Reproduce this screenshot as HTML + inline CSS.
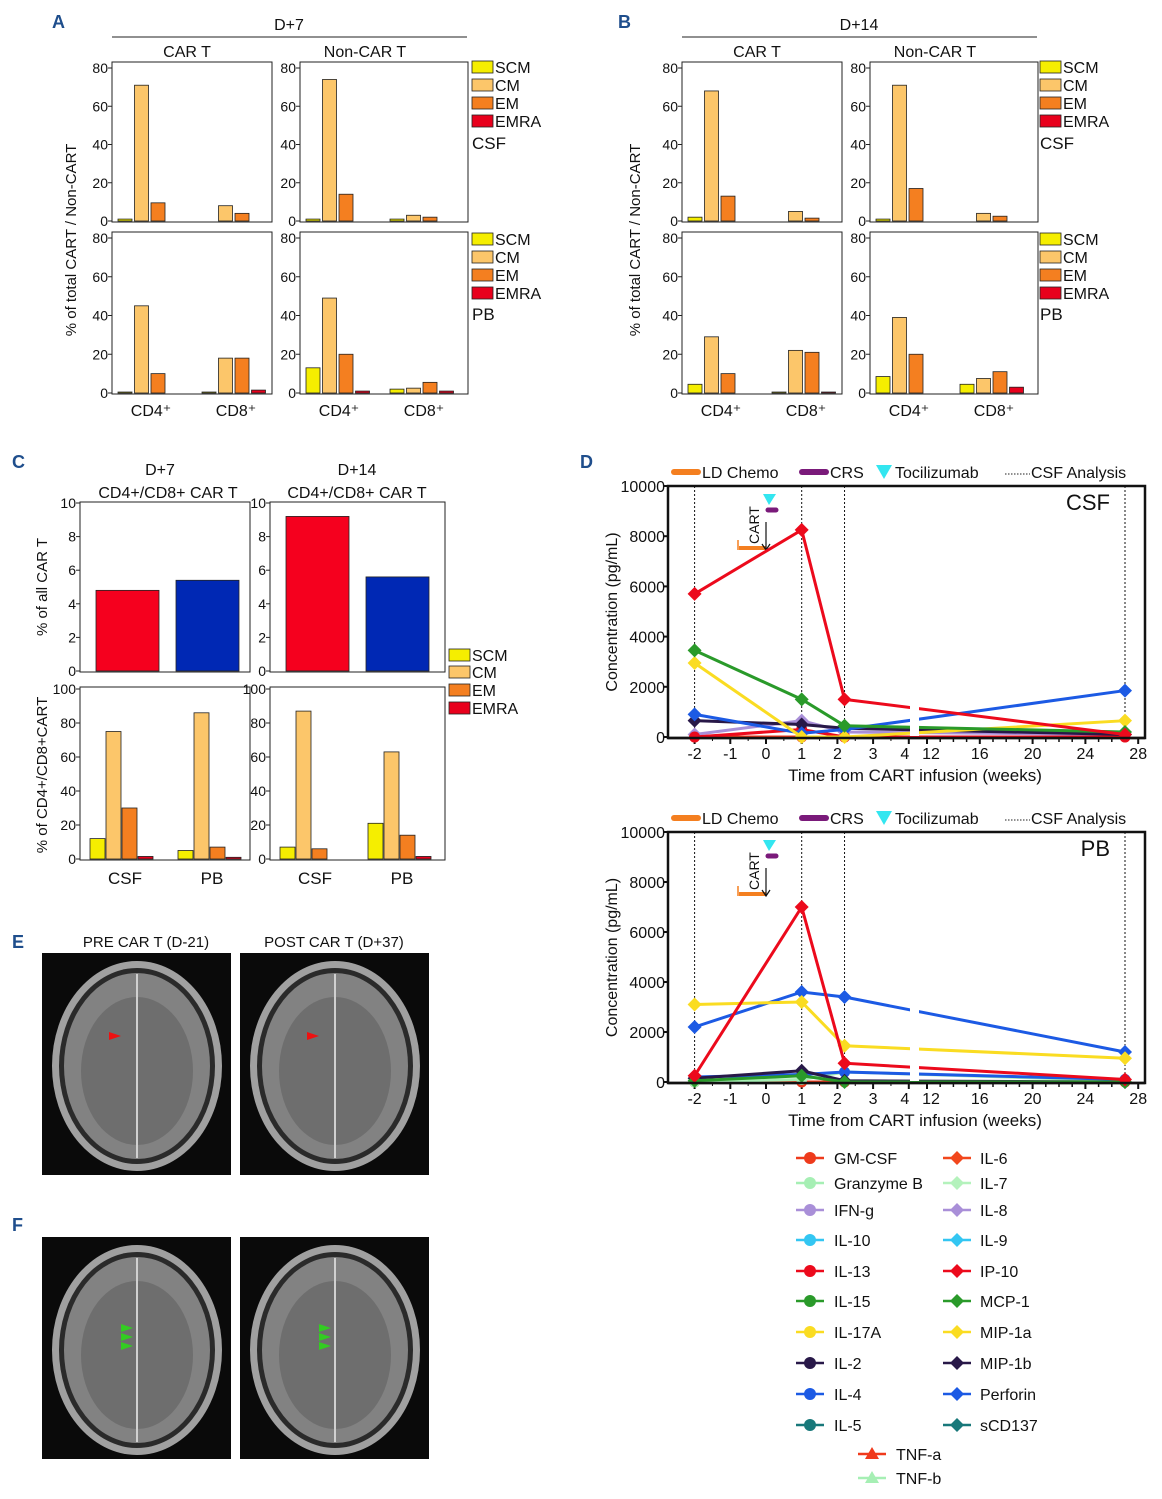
<!DOCTYPE html>
<html><head><meta charset="utf-8"><style>
body{margin:0;background:#fff;font-family:"Liberation Sans",sans-serif}
svg text{font-family:"Liberation Sans",sans-serif}
</style></head><body>
<svg id="s" width="1162" height="1494" viewBox="0 0 1162 1494" xmlns="http://www.w3.org/2000/svg">
<g font-weight="bold" font-size="18" fill="#1f4e8c">
<text x="52" y="28">A</text>
<text x="618" y="28">B</text>
<text x="12" y="468">C</text>
<text x="580" y="468">D</text>
<text x="12" y="948">E</text>
<text x="12" y="1231">F</text>
</g>
<g id="g"></g>
</svg>
<script>
// ---- Panel A/B data (SCM, CM, EM, EMRA) ----
const subsets = ["SCM","CM","EM","EMRA"];
const aTopCar = [[1,71,9.5,0],[0,8,4,0]];
const aTopNon = [[1,74,14,0],[1,3,2,0]];
const aBotCar = [[0.5,45,10,0],[0.5,18,18,1.5]];
const aBotNon = [[13,49,20,1],[2,2.5,5.5,1]];
const bTopCar = [[2,68,13,0],[0,5,1.5,0]];
const bTopNon = [[1,71,17,0],[0,4,2.5,0]];
const bBotCar = [[4.5,29,10,0],[0.5,22,21,0.5]];
const bBotNon = [[8.5,39,20,0],[4.5,7.5,11,3]];
const abTicks = [0,20,40,60,80];
// ---- Panel C data ----
const cTopD7 = [4.8,5.4];
const cTopD14 = [9.2,5.6];
const cBotD7 = [[12,75,30,1.5],[5,86,7,1]];
const cBotD14 = [[7,87,6,0],[21,63,14,1.5]];
const cTopTicks = [0,2,4,6,8,10];
const cBotTicks = [0,20,40,60,80,100];
// ---- Panel D data (weeks -2, 1, 2.2, 27) ----
const dWeeks = [-2,1,2.2,27];
const dTickLeft = [-2,-1,0,1,2,3,4];
const dTickRight = [12,16,20,24,28];
const dYTicks = [0,2000,4000,6000,8000,10000];
const csfIP10 = [5700,8250,1500,100];
const csfMCP1 = [3450,1500,450,200];
const csfMIP1a = [2950,0,0,650];
const csfPerforin = [900,150,300,1850];
const csfMIP1b = [650,500,350,100];
const csfIL8 = [100,650,200,100];
const csfIL13 = [0,300,0,0];
const csfGMCSF = [0,0,0,0];
const pbIP10 = [250,7000,750,100];
const pbPerforin = [2200,3600,3400,1200];
const pbMIP1a = [3100,3200,1450,950];
const pbMIP1b = [150,450,50,0];
const pbMCP1 = [50,250,0,0];
const pbGranz = [0,100,400,50];
const pbIL4 = [200,300,400,100];
const pbGMCSF = [0,0,0,0];

const SC=["#f5ee00","#fcc66a","#f47f20","#e8001c"];
const NS="http://www.w3.org/2000/svg";
const G=document.getElementById('g');
function el(t,a,p){const e=document.createElementNS(NS,t);for(const k in a)e.setAttribute(k,a[k]);(p||G).appendChild(e);return e;}
function tx(x,y,s,size,anchor,extra){const e=el('text',Object.assign({x:x,y:y,'font-size':size||15,'text-anchor':anchor||'start',fill:'#111'},extra||{}));e.textContent=s;return e;}

function box(x1,x2,y1,y2,name){const r=el('rect',{x:x1,y:y1,width:x2-x1,height:y2-y1,fill:'none',stroke:'#222','stroke-width':1});}
function yAxis(x,y0,y1,ticks,max,name){
  const sc=v=>y0-(v/max)*(y0-y1);
  ticks.forEach(t=>{el('line',{x1:x-4,x2:x,y1:sc(t),y2:sc(t),stroke:'#222'});const e=tx(x-4,sc(t)+5,String(t),14,'end');});
  return sc;
}
function groupBars(vals,starts,y0,sc,w,gap,name){
  vals.forEach((g,gi)=>g.forEach((v,i)=>{const x=starts[gi]+i*gap;const r=el('rect',{x:x,y:sc(v),width:w,height:y0-sc(v),fill:SC[i],stroke:'#222','stroke-width':0.8});}));
}
function legendAB(x,ys,tail){subsets.forEach((s,i)=>{const r=el('rect',{x:x,y:ys[i]-7,width:21,height:12,fill:SC[i],stroke:'#222','stroke-width':0.8});const t=tx(x+23,ys[i]+5,s,16);});
 if(tail){const t=tx(x,ys[4],tail,17);}}

function panelAB(ox,title,data){
  const [tc,tn,bc,bn]=data;
  const bx=[[112+ox,272+ox],[300+ox,468+ox]];
  tx(289+ox,30,title,16,'middle');
  el('line',{x1:112+ox,x2:467+ox,y1:37,y2:37,stroke:'#222'});
  tx(187+ox,57,'CAR T',16,'middle');tx(365+ox,57,'Non-CAR T',16,'middle');
  [[62,222,tc,tn],[232,394,bc,bn]].forEach(([yt,yb,dc,dn],ri)=>{
    const y0=yb-1,y80=yt+6;
    bx.forEach(([a,b],ci)=>{box(a,b,yt,yb,'plot-frame');
      const sc=yAxis(a,y0,y80,abTicks,80);
      groupBars(ci?dn:dc,[a+6,a+90],y0,sc,14,16.5,'bar');
      if(ri==1){['CD4⁺','CD8⁺'].forEach((l,k)=>{const t=tx(a+39+k*85,yb+22,l,16,'middle');});}
    });
    const lx=472+ox-(ox?2:0);
    legendAB(lx,ri?[240,258,276,294,320]:[68,86,104,122,149],ri?'PB':'CSF');
  });
  const yt=tx(0,0,'% of total CART / Non-CART',15,'middle',{transform:`translate(${76+ox-(ox?6:0)},240) rotate(-90)`});
  
}
panelAB(0,'D+7',[aTopCar,aTopNon,aBotCar,aBotNon]);
panelAB(570,'D+14',[bTopCar,bTopNon,bBotCar,bBotNon]);

// Panel C
tx(160,475,'D+7',16,'middle');tx(168,498,'CD4+/CD8+ CAR T',16,'middle');
tx(357,475,'D+14',16,'middle');tx(357,498,'CD4+/CD8+ CAR T',16,'middle');
[[80,250,cTopD7,cBotD7],[270,445,cTopD14,cBotD14]].forEach(([a,b,tv,bv])=>{
  box(a,b,502,672,'plot-frame');
  const sc=yAxis(a,671,503,cTopTicks,10);
  tv.forEach((v,i)=>{const r=el('rect',{x:a+16+i*80,y:sc(v),width:63,height:671-sc(v),fill:i?'#0028b4':'#f5001e',stroke:'#222','stroke-width':0.8});});
  box(a,b,687,860,'plot-frame');
  const sc2=yAxis(a,859,689,cBotTicks,100);
  groupBars(bv,[a+10,a+98],859,sc2,15,16,'bar');
  ['CSF','PB'].forEach((l,k)=>tx(a+45+k*87,884,l,17,'middle'));
});
tx(0,0,'% of all CAR T',15,'middle',{transform:'translate(47,587) rotate(-90)'});
tx(0,0,'% of CD4+/CD8+CART',15,'middle',{transform:'translate(47,775) rotate(-90)'});
legendAB(449,[656,673,691,709]);

// Panel D
const legCols={"GM-CSF":"#ee3a1c","IL-6":"#f2471c","Granzyme B":"#a6efb4","IL-7":"#b4f2bc","IFN-g":"#a98fd8","IL-8":"#a98fd8","IL-10":"#33c6f2","IL-9":"#33c6f2","IL-13":"#ec0a1c","IP-10":"#ec0a1c","IL-15":"#2a9a2a","MCP-1":"#2a9a2a","IL-17A":"#fadc22","MIP-1a":"#fadc22","IL-2":"#281848","MIP-1b":"#281848","IL-4":"#1c5ae4","Perforin":"#1c5ae4","IL-5":"#18787a","sCD137":"#18787a"};
function panelD(yt,yb,title,series){
  const x1=668,x2=1145,y0=yb-1;
  const xs=w=>w<=4?766+w*35.7:927+(w-12)*13.2;
  const ys=v=>y0-(v/10000)*(y0-yt);
  const ly=yt-14;
  el('line',{x1:674,x2:698,y1:ly,y2:ly,stroke:'#f47f20','stroke-width':6,'stroke-linecap':'round'});tx(702,ly+6,'LD Chemo',16);
  el('line',{x1:802,x2:826,y1:ly,y2:ly,stroke:'#7a1a7a','stroke-width':6,'stroke-linecap':'round'});tx(830,ly+6,'CRS',16);
  el('polygon',{points:`876,${ly-7} 892,${ly-7} 884,${ly+7}`,fill:'#33e6f0'});tx(895,ly+6,'Tocilizumab',16);
  el('line',{x1:1005,x2:1030,y1:ly+2,y2:ly+2,stroke:'#222','stroke-dasharray':'1.5,1.5'});tx(1031,ly+6,'CSF Analysis',16);
  el('path',{d:`M${x1},${yt} H${x2} V${yb} H${x1} Z`,fill:'none',stroke:'#111','stroke-width':2.5});
  dYTicks.forEach(t=>{el('line',{x1:x1-5,x2:x1,y1:ys(t),y2:ys(t),stroke:'#111','stroke-width':2});tx(x1-3,ys(t)+6,String(t),16,'end');});
  dTickLeft.concat(dTickRight).forEach(t=>{el('line',{x1:xs(t),x2:xs(t),y1:yb,y2:yb+6,stroke:'#111','stroke-width':2});tx(xs(t)+(t==4?-4:t==12?4:0),yb+21,String(t),16,'middle');});
  for(let w=13;w<28;w++){if(w%4)el('line',{x1:xs(w),x2:xs(w),y1:yb,y2:yb+4,stroke:'#111','stroke-width':1.5});}
  for(let w=-1.5;w<4;w+=1)el('line',{x1:xs(w),x2:xs(w),y1:yb,y2:yb+3,stroke:'#111','stroke-width':1});
  dWeeks.forEach(w=>el('line',{x1:xs(w),x2:xs(w),y1:yt,y2:yb,stroke:'#111','stroke-dasharray':'2,2'}));
  tx(1110,yt+24,title,22,'end');
  el('line',{x1:739,x2:766,y1:yt+62,y2:yt+62,stroke:'#f47f20','stroke-width':4});
  el('line',{x1:738,x2:738,y1:yt+54,y2:yt+64,stroke:'#f47f20','stroke-width':1.5});
  el('line',{x1:768,x2:776,y1:yt+24,y2:yt+24,stroke:'#7a1a7a','stroke-width':5,'stroke-linecap':'round'});
  el('polygon',{points:`763,${yt+8} 776,${yt+8} 769,${yt+19}`,fill:'#33e6f0'});
  tx(0,0,'CART',14,'start',{transform:`translate(759,${yt+58}) rotate(-90)`});
  el('path',{d:`M766,${yt+36} V${yt+64} M762,${yt+58} L766,${yt+64} L770,${yt+58}`,stroke:'#111',fill:'none','stroke-width':1.2});
  series.forEach(([name,vals,shape])=>{
    const c=legCols[name];
    const pts=dWeeks.map((w,i)=>[xs(w),ys(vals[i])]);
    const p=el('polyline',{points:pts.map(q=>q.join(',')).join(' '),fill:'none',stroke:c,'stroke-width':3});
    
    pts.forEach(([x,y])=>{
      if(shape=='d')el('polygon',{points:`${x},${y-7} ${x+7},${y} ${x},${y+7} ${x-7},${y}`,fill:c});
      else el('circle',{cx:x,cy:y,r:5.5,fill:c});
    });
  });
  el('rect',{x:910,y:yt+2,width:9,height:yb-yt-4,fill:'#fff'});
  el('line',{x1:x1,x2:x2,y1:yb,y2:yb,stroke:'#111','stroke-width':2.5});
  tx(0,0,'Concentration (pg/mL)',16,'middle',{transform:`translate(617,${(yt+yb)/2}) rotate(-90)`});
  tx(915,yb+43,'Time from CART infusion (weeks)',17,'middle');
}
panelD(486,738,'CSF',[["GM-CSF",csfGMCSF,'c'],["IL-8",csfIL8,'d'],["IL-13",csfIL13,'c'],["MIP-1b",csfMIP1b,'d'],["Perforin",csfPerforin,'d'],["MIP-1a",csfMIP1a,'d'],["MCP-1",csfMCP1,'d'],["IP-10",csfIP10,'d']]);
panelD(832,1083,'PB',[["GM-CSF",pbGMCSF,'c'],["Granzyme B",pbGranz,'c'],["IL-4",pbIL4,'c'],["MIP-1b",pbMIP1b,'d'],["MCP-1",pbMCP1,'d'],["Perforin",pbPerforin,'d'],["MIP-1a",pbMIP1a,'d'],["IP-10",pbIP10,'d']]);

const leftNames=["GM-CSF","Granzyme B","IFN-g","IL-10","IL-13","IL-15","IL-17A","IL-2","IL-4","IL-5"];
const rightNames=["IL-6","IL-7","IL-8","IL-9","IP-10","MCP-1","MIP-1a","MIP-1b","Perforin","sCD137"];
const rowY=[1158,1183,1210,1240,1271,1301,1332,1363,1394,1425];
leftNames.forEach((n,i)=>{const y=rowY[i],c=legCols[n];el('line',{x1:796,x2:824,y1:y,y2:y,stroke:c,'stroke-width':2.5});el('circle',{cx:810,cy:y,r:6,fill:c});const t=tx(834,y+6,n,16);});
rightNames.forEach((n,i)=>{const y=rowY[i],c=legCols[n];el('line',{x1:943,x2:971,y1:y,y2:y,stroke:c,'stroke-width':2.5});el('polygon',{points:`957,${y-7} 964,${y} 957,${y+7} 950,${y}`,fill:c});const t=tx(980,y+6,n,16);});
[["TNF-a","#f03a1c",1454],["TNF-b","#a6efb4",1478]].forEach(([n,c,y])=>{el('line',{x1:858,x2:886,y1:y,y2:y,stroke:c,'stroke-width':2.5});el('polygon',{points:`872,${y-7} 879,${y+5} 865,${y+5}`,fill:c});tx(896,y+6,n,16);});

tx(146,947,'PRE CAR T (D-21)',15,'middle');tx(334,947,'POST CAR T (D+37)',15,'middle');
[[42,953],[240,953],[42,1237],[240,1237]].forEach(([x,y],i)=>{
  const r=el('rect',{x:x,y:y,width:189,height:222,fill:'#0a0a0a'});
  const cx=x+95,cy=y+113;
  el('ellipse',{cx:cx,cy:cy,rx:85,ry:105,fill:'#a0a0a0'});
  el('ellipse',{cx:cx,cy:cy,rx:78,ry:98,fill:'#2a2a2a'});
  el('ellipse',{cx:cx,cy:cy,rx:73,ry:93,fill:'#828282'});
  el('ellipse',{cx:cx,cy:cy+5,rx:56,ry:74,fill:'#6e6e6e'});
  el('line',{x1:cx,x2:cx,y1:cy-92,y2:cy+92,stroke:'#d0d0d0','stroke-width':2});
  if(i<2){el('polygon',{points:`${cx-16},${cy-30} ${cx-28},${cy-34} ${cx-28},${cy-26}`,fill:'#ee1111'});}
  else{[-22,-13,-4].forEach(d=>el('polygon',{points:`${cx-4},${cy+d} ${cx-16},${cy+d-4} ${cx-16},${cy+d+4}`,fill:'#33cc22'}));}
});
</script>
</body></html>
